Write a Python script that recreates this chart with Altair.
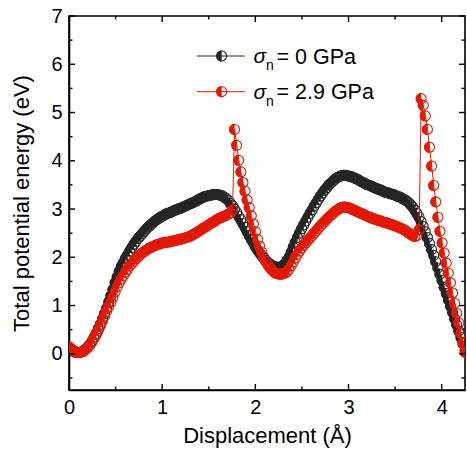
import altair as alt
import pandas as pd

# ---------------- data ----------------
STEP = 0.0225  # displacement step between successive points (Å)

energy_0gpa = [
    0.12, 0.09, 0.056, 0.04, 0.026, 0.027, 0.04, 0.06, 0.10, 0.14,
    0.19, 0.26, 0.34, 0.42, 0.52, 0.61, 0.72, 0.83, 0.94, 1.07,
    1.20, 1.33, 1.47, 1.59, 1.71, 1.81, 1.89, 1.98, 2.05, 2.13,
    2.20, 2.27, 2.33, 2.39, 2.44, 2.49, 2.54, 2.59, 2.63, 2.67,
    2.71, 2.75, 2.78, 2.81, 2.84, 2.86, 2.89, 2.91, 2.92, 2.94,
    2.96, 2.98, 3.00, 3.01, 3.03, 3.05, 3.07, 3.09, 3.11, 3.13,
    3.15, 3.17, 3.20, 3.22, 3.24, 3.26, 3.27, 3.28, 3.29, 3.30,
    3.30, 3.30, 3.29, 3.28, 3.25, 3.22, 3.18, 3.12, 3.07, 3.00,
    2.93, 2.85, 2.78, 2.70, 2.62, 2.53, 2.45, 2.37, 2.30, 2.22,
    2.15, 2.09, 2.03, 1.98, 1.93, 1.89, 1.86, 1.83, 1.81, 1.80,
    1.79, 1.80, 1.82, 1.87, 1.93, 2.00, 2.10, 2.21, 2.31, 2.41,
    2.50, 2.59, 2.67, 2.75, 2.83, 2.91, 2.98, 3.06, 3.13, 3.20,
    3.27, 3.33, 3.39, 3.44, 3.50, 3.54, 3.58, 3.62, 3.65, 3.67,
    3.69, 3.70, 3.70, 3.69, 3.68, 3.67, 3.65, 3.63, 3.61, 3.58,
    3.56, 3.54, 3.51, 3.50, 3.48, 3.46, 3.44, 3.42, 3.41, 3.39,
    3.37, 3.35, 3.34, 3.32, 3.31, 3.30, 3.28, 3.26, 3.25, 3.22,
    3.20, 3.17, 3.14, 3.09, 3.04, 2.98, 2.91, 2.83, 2.74, 2.64,
    2.53, 2.41, 2.29, 2.16, 2.04, 1.91, 1.78, 1.65, 1.52, 1.38,
    1.25, 1.12, 0.99, 0.86, 0.73, 0.60, 0.47, 0.34, 0.21, 0.08,
]

energy_29gpa = [
    0.15, 0.11, 0.07, 0.05, 0.03, 0.025, 0.035, 0.05, 0.09, 0.13,
    0.18, 0.24, 0.32, 0.40, 0.49, 0.58, 0.68, 0.78, 0.88, 0.98,
    1.07, 1.17, 1.28, 1.38, 1.47, 1.55, 1.62, 1.69, 1.75, 1.82,
    1.87, 1.92, 1.97, 2.01, 2.05, 2.09, 2.12, 2.15, 2.18, 2.20,
    2.22, 2.24, 2.26, 2.27, 2.29, 2.30, 2.31, 2.31, 2.32, 2.33,
    2.34, 2.35, 2.36, 2.37, 2.38, 2.39, 2.41, 2.42, 2.44, 2.46,
    2.49, 2.51, 2.54, 2.57, 2.60, 2.62, 2.65, 2.68, 2.71, 2.73,
    2.76, 2.79, 2.81, 2.83, 2.85, 2.87, 2.89, 2.92, 2.98, 4.65,
    4.32, 4.01, 3.77, 3.55, 3.37, 3.19, 3.03, 2.86, 2.69, 2.53,
    2.37, 2.23, 2.11, 2.00, 1.91, 1.84, 1.78, 1.73, 1.69, 1.67,
    1.655, 1.65, 1.655, 1.67, 1.70, 1.75, 1.82, 1.90, 1.98, 2.06,
    2.13, 2.19, 2.25, 2.30, 2.35, 2.40, 2.45, 2.50, 2.55, 2.60,
    2.65, 2.70, 2.74, 2.79, 2.83, 2.87, 2.91, 2.95, 2.98, 3.01,
    3.03, 3.04, 3.04, 3.03, 3.02, 3.00, 2.98, 2.96, 2.94, 2.92,
    2.90, 2.88, 2.86, 2.84, 2.82, 2.81, 2.79, 2.78, 2.76, 2.75,
    2.73, 2.72, 2.71, 2.69, 2.68, 2.66, 2.65, 2.63, 2.61, 2.59,
    2.57, 2.54, 2.51, 2.48, 2.45, 2.43, 2.45, 2.57, 5.29, 5.15,
    4.93, 4.65, 4.28, 3.89, 3.49, 3.15, 2.83, 2.54, 2.30, 2.09,
    1.88, 1.67, 1.47, 1.26, 1.05, 0.84, 0.64, 0.43, 0.22, 0.03,
]

series_names = ["0 GPa", "2.9 GPa"]
series_colors = ["#262626", "#e11a05"]

x_major = [0, 1, 2, 3, 4]
x_minor = [0.5, 1.5, 2.5, 3.5]
y_major = [0, 1, 2, 3, 4, 5, 6, 7]
y_minor = [-0.5, 0.5, 1.5, 2.5, 3.5, 4.5, 5.5, 6.5]

displacement = [round(i * STEP, 4) for i in range(len(energy_0gpa))]

# ---------------- layout ----------------
W, H = 396, 374
FONT = "Liberation Sans"
HALF_LEFT = "M0,-1 A1,1 0 0,0 0,1 Z"
HALF_SIZE = 125      # custom path: radius = sqrt(size)/2 ~ 5.6
RING_SIZE = 98       # circle: radius = sqrt(size/pi) ~ 5.6

xs = alt.Scale(domain=[0, 4.25], nice=False, zero=False)
ys = alt.Scale(domain=[-0.75, 7], nice=False, zero=False)

x_axis = alt.Axis(values=x_major, format="d", ticks=False, domain=True, domainColor="black",
                  domainWidth=1.6, grid=False, labelFlush=False,
                  labelFontSize=20, labelPadding=7, labelFont=FONT, labelColor="black",
                  title="Displacement (Å)", titleFontSize=22, titleFont=FONT,
                  titleFontWeight="normal", titleColor="black", titlePadding=8)
y_axis = alt.Axis(values=y_major, format="d", ticks=False, domain=True, domainColor="black",
                  domainWidth=1.6, grid=False, labelFlush=False,
                  labelFontSize=20, labelPadding=7, labelFont=FONT, labelColor="black",
                  title="Total potential energy (eV)", titleFontSize=22, titleFont=FONT,
                  titleFontWeight="normal", titleColor="black", titlePadding=17)

layers = []


def series_layers(values, color):
    df = pd.DataFrame({"x": displacement, "E": values})
    base = alt.Chart(df).encode(
        x=alt.X("x:Q", scale=xs, axis=x_axis),
        y=alt.Y("E:Q", scale=ys, axis=y_axis),
    )
    line = base.mark_line(color=color, strokeWidth=1, clip=True)
    half = base.mark_point(shape=HALF_LEFT, filled=True, size=HALF_SIZE, fill=color,
                           strokeWidth=0, opacity=1, clip=True)
    ring = base.mark_point(shape="circle", filled=False, size=RING_SIZE, stroke=color,
                           strokeWidth=1.1, opacity=1, clip=True)
    return [line, half, ring]


layers += series_layers(energy_0gpa, series_colors[0])
layers += series_layers(energy_29gpa, series_colors[1])

# inward ticks on all four sides
for vals, size in ((x_major, 6), (x_minor, 3.5)):
    tdf = pd.DataFrame({"v": vals})
    for y0, y1 in ((H, H - size), (0, size)):
        layers.append(
            alt.Chart(tdf).mark_rule(color="black", strokeWidth=1.4).encode(
                x=alt.X("v:Q", scale=xs, axis=x_axis),
                y=alt.value(y0), y2=alt.value(y1))
        )
for vals, size in ((y_major, 6), (y_minor, 3.5)):
    tdf = pd.DataFrame({"v": vals})
    for x0, x1 in ((0, size), (W, W - size)):
        layers.append(
            alt.Chart(tdf).mark_rule(color="black", strokeWidth=1.4).encode(
                y=alt.Y("v:Q", scale=ys, axis=y_axis),
                x=alt.value(x0), x2=alt.value(x1))
        )

# manual legend (line + half-filled marker + sigma_n label)
for k, (name, color) in enumerate(zip(series_names, series_colors)):
    yy = 40 + k * 35.7
    ldf = pd.DataFrame({"label": ["= " + name]})
    lb = alt.Chart(ldf)
    layers.append(lb.mark_rule(color=color, strokeWidth=1).encode(
        x=alt.value(128), x2=alt.value(176), y=alt.value(yy)))
    layers.append(lb.mark_point(shape=HALF_LEFT, filled=True, size=HALF_SIZE, fill=color,
                                strokeWidth=0, opacity=1).encode(
        x=alt.value(152.7), y=alt.value(yy)))
    layers.append(lb.mark_point(shape="circle", filled=False, size=RING_SIZE, stroke=color,
                                strokeWidth=1.1, opacity=1).encode(
        x=alt.value(152.7), y=alt.value(yy)))
    layers.append(lb.mark_text(text="σ", font=FONT, fontStyle="italic", fontSize=21,
                               align="left", baseline="alphabetic", color="black").encode(
        x=alt.value(184.5), y=alt.value(yy + 7)))
    layers.append(lb.mark_text(text="n", font=FONT, fontSize=14, align="left",
                               baseline="alphabetic", color="black").encode(
        x=alt.value(197), y=alt.value(yy + 14)))
    layers.append(lb.mark_text(font=FONT, fontSize=21.5, align="left",
                               baseline="alphabetic", color="black").encode(
        x=alt.value(207.5), y=alt.value(yy + 7.5), text="label:N"))

chart = alt.layer(*layers).properties(
    width=W, height=H, background="white",
    padding={"left": 69, "top": 16, "right": 2, "bottom": 62},
    autosize=alt.AutoSizeParams(type="none"),
).configure_view(stroke="black", strokeWidth=1.6)

chart.save("out.html", embed_options={"renderer": "svg", "actions": False})
